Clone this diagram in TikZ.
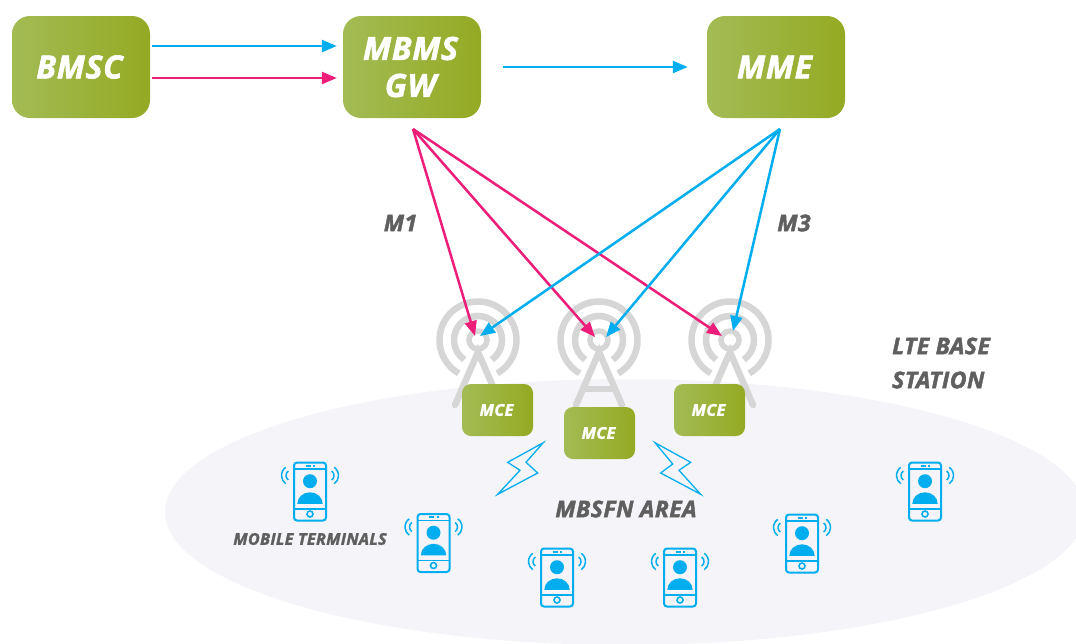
\documentclass[tikz,border=0pt]{standalone}
\usepackage{fontspec}
\setmainfont{Open Sans}[BoldItalicFeatures={FakeBold=1.8,LetterSpace=2}]
\usetikzlibrary{arrows.meta}
\definecolor{cblue}{RGB}{0,174,239}
\definecolor{cpink}{RGB}{237,30,121}
\definecolor{gleft}{RGB}{163,187,84}
\definecolor{gright}{RGB}{148,170,35}
\definecolor{towergray}{RGB}{214,214,214}
\definecolor{areafill}{RGB}{245,244,249}
\definecolor{labgray}{RGB}{95,95,95}
\newcommand{\lab}[1]{\fontsize{#1}{#1}\selectfont\bfseries\itshape}
\tikzset{
  x=1pt,y=1pt,
  bigbox/.style={rounded corners=18pt,left color=gleft,right color=gright,minimum width=138pt,minimum height=102pt,inner sep=0pt,align=center,text=white,font={\fontsize{32}{37}\selectfont\bfseries\itshape}},
  mcebox/.style={rounded corners=9pt,left color=gleft,right color=gright,minimum width=71pt,minimum height=52pt,inner sep=0pt,text=white,font={\lab{16.3}}},
  graylabel/.style={text=labgray,inner sep=0pt},
  barrow/.style={draw=cblue,line width=2.5pt,-{Triangle[length=15pt,width=12pt]}},
  parrow/.style={draw=cpink,line width=2.5pt,-{Triangle[length=15pt,width=12pt]}},
  bolt/.style={draw=cblue,line width=1.3pt,line join=miter,fill=none},
  towerline/.style={draw=towergray,line width=6.5pt,line cap=round},
  pics/tower/.style={code={
    \draw[towerline,line cap=butt] (-60:38.5) arc[start angle=-60,end angle=240,radius=38.5];
    \draw[towerline,line cap=butt] (-55:24) arc[start angle=-55,end angle=235,radius=24];
    \draw[draw=towergray,line width=5.5pt] (0,0) circle[radius=9];
    \draw[towerline] (-23,-65) -- (0,-12) -- (23,-65);
    \draw[draw=towergray,line width=6pt] (-15,-49) -- (15,-49);
  }},
  pics/phone/.style={code={
    \draw[draw=cblue,line width=2pt,rounded corners=3pt] (-16,-29) rectangle (16,29);
    \draw[draw=cblue,line width=1.6pt] (-16,22.7) -- (16,22.7) (-16,-17.3) -- (16,-17.3);
    \draw[draw=cblue,line width=1.6pt] (-4.5,25.8) -- (0.5,25.8) (3,25.8) -- (5,25.8);
    \draw[draw=cblue,line width=1.6pt] (0,-22.5) circle[radius=3];
    \fill[cblue] (0,10.3) circle[radius=7];
    \fill[cblue] (-12.7,-12.3) arc[start angle=180,end angle=0,x radius=12.7,y radius=11.5] -- cycle;
    \draw[draw=cblue,line width=1.5pt]
      (-18.5,16) ++(125:10) arc[start angle=125,end angle=235,radius=10]
      (-18.5,16) ++(125:5.5) arc[start angle=125,end angle=235,radius=5.5]
      (18.5,16) ++(55:10) arc[start angle=55,end angle=-55,radius=10]
      (18.5,16) ++(55:5.5) arc[start angle=55,end angle=-55,radius=5.5];
  }},
}
\begin{document}
\begin{tikzpicture}
\path[use as bounding box,clip] (0,0) rectangle (1076,-643);
\fill[white] (0,0) rectangle (1076,-643);
% MBSFN area
\fill[areafill] (625,-512) ellipse[x radius=460,y radius=133];
% towers
\pic at (478,-340) {tower};
\pic at (599,-340) {tower};
\pic at (730,-340) {tower};
% boxes
\node[bigbox] (bmsc) at (81,-67) {\kern-3pt BMSC};
\node[bigbox] (mbms) at (412,-67) {\kern-3pt MBMS\\\kern-3pt GW};
\node[bigbox] (mme) at (776,-67) {\kern-3pt MME};
\node[mcebox] (mce1) at (497.5,-410) {\kern-2pt MCE};
\node[mcebox] (mce2) at (599.5,-433) {\kern-2pt MCE};
\node[mcebox] (mce3) at (709.5,-410) {\kern-2pt MCE};
% connector anchors
\coordinate (m1src) at (413,-129);
\coordinate (m3src) at (780,-129);
\coordinate (p1) at (475,-336);
\coordinate (p2) at (595,-337);
\coordinate (p3) at (722,-336);
\coordinate (b1) at (480,-336);
\coordinate (b2) at (606,-337);
\coordinate (b3) at (733,-331);
% top arrows
\draw[barrow] ([yshift=21pt]bmsc.east)++(2,0) -- ([xshift=-6pt,yshift=21pt]mbms.west);
\draw[parrow] ([yshift=-11pt]bmsc.east)++(2,0) -- ([xshift=-6pt,yshift=-11pt]mbms.west);
\draw[barrow] ([xshift=22pt]mbms.east) -- ([xshift=-19pt]mme.west);
% interface arrows
\draw[parrow] (m1src) -- (p1);
\draw[parrow] (m1src) -- (p2);
\draw[parrow] (m1src) -- (p3);
\draw[barrow] (m3src) -- (b1);
\draw[barrow] (m3src) -- (b2);
\draw[barrow] (m3src) -- (b3);
% bolts
\draw[bolt] (543.3,-442.7) -- (507.7,-462.3) -- (520,-470.3) -- (497.7,-494.3) -- (537.7,-473) -- (526,-462.3) -- cycle;
\draw[bolt] (655,-442.7) -- (690.7,-462.3) -- (679,-470.3) -- (700.7,-494.3) -- (660.7,-473) -- (672.7,-464) -- cycle;
% phones
\pic at (310,-491.5) {phone};
\pic at (433.5,-543) {phone};
\pic at (557,-577.5) {phone};
\pic at (680,-577.5) {phone};
\pic at (802,-543.5) {phone};
\pic at (925,-491.5) {phone};
% labels
\node[graylabel,font={\lab{23}}] (m1) at (400.5,-223) {M1};
\node[graylabel,font={\lab{23}}] (m3) at (794,-223) {M3};
\node[graylabel,font={\lab{23}},anchor=west] (lte1) at (892,-346) {LTE BASE};
\node[graylabel,font={\lab{23}},anchor=west] (lte2) at (892,-380) {STATION};
\node[graylabel,font={\lab{23}}] (area) at (626,-509) {MBSFN AREA};
\node[graylabel,font={\lab{16.2}}] (term) at (310,-539) {MOBILE TERMINALS};
\end{tikzpicture}
\end{document}
